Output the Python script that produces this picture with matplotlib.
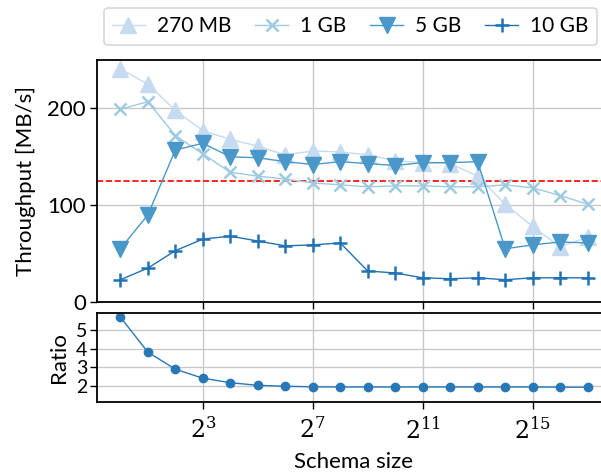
import matplotlib
matplotlib.use("Agg")
import matplotlib.pyplot as plt
from matplotlib.ticker import NullLocator, FixedLocator, FixedFormatter

plt.rcParams['font.family'] = ['Lato', 'DejaVu Sans']
plt.rcParams['mathtext.fontset'] = 'dejavuserif'

# Schema sizes 2^0 .. 2^17
exponents = list(range(18))
schema_sizes = [2 ** e for e in exponents]

tp_270mb = [241, 225, 198, 177, 168, 161, 152, 156, 155, 152, 146, 144, 143, 130, 101, 78, 57, 67]
tp_1gb = [199, 207, 172, 153, 134, 130, 127, 123, 121, 119, 120, 120, 119, 119, 121, 118, 110, 101]
tp_5gb = [55, 90, 157, 164, 150, 149, 145, 142, 145, 143, 141, 144, 144, 145, 55, 59, 62, 61]
tp_10gb = [23, 35, 53, 65, 68, 63, 58, 59, 61, 32, 30, 25, 24, 25, 23, 25, 25, 25]
ratio = [5.68, 3.81, 2.90, 2.42, 2.18, 2.04, 1.99, 1.96, 1.95, 1.95, 1.95, 1.95, 1.95, 1.95, 1.95, 1.95, 1.94, 1.94]

reference_level = 125
series_labels = ['270 MB', '1 GB', '5 GB', '10 GB']
xtick_exps = [3, 7, 11, 15]

W, H = 601, 475
fig = plt.figure(figsize=(W / 100, H / 100), dpi=100)

def rect(x0, y0, x1, y1):
    return [x0 / W, 1 - y1 / H, (x1 - x0) / W, (y1 - y0) / H]

ax = fig.add_axes(rect(97, 60, 611, 302))
axr = fig.add_axes(rect(97, 313, 611, 402), sharex=ax)

styles = [
    dict(color='#c6dbef', marker='^', ms=11, mew=1.0),
    dict(color='#9ecae1', marker='x', ms=9, mew=1.8),
    dict(color='#4a98c9', marker='v', ms=11, mew=1.0),
    dict(color='#2171b5', marker='+', ms=10, mew=1.8),
]
for vals, lab, st in zip([tp_270mb, tp_1gb, tp_5gb, tp_10gb], series_labels, styles):
    ax.plot(schema_sizes, vals, lw=1.0, label=lab, **st)

ax.axhline(reference_level, color='red', ls='--', lw=1.2, zorder=1)

ax.set_xscale('log', base=2)
ax.set_xlim(2 ** -0.85, 2 ** 17.85)
ax.set_ylim(0, 250)
ax.set_yticks([0, 100, 200])
ax.set_ylabel('Throughput [MB/s]', fontsize=16, labelpad=8)

axr.plot(schema_sizes, ratio, color='#2878b8', marker='o', ms=6, lw=1.0)
axr.set_ylim(1.15, 5.9)
axr.set_yticks([2, 3, 4, 5])
axr.set_ylabel('Ratio', fontsize=16, labelpad=5)
axr.set_xlabel('Schema size', fontsize=16, labelpad=7)

ticks = [2 ** e for e in xtick_exps]
for a in (ax, axr):
    a.xaxis.set_major_locator(FixedLocator(ticks))
    a.xaxis.set_minor_locator(NullLocator())
    a.grid(True, color='#c8c8c8', lw=1.0)
    a.set_axisbelow(True)
    a.tick_params(axis='both', direction='out', length=5, width=1.0)
    for sp in a.spines.values():
        sp.set_linewidth(1.3)
ax.tick_params(axis='y', labelsize=16, pad=3)
axr.tick_params(axis='y', labelsize=14, pad=2)
ax.tick_params(axis='x', labelbottom=False)
axr.xaxis.set_major_formatter(FixedFormatter([f'$2^{{{e}}}$' for e in xtick_exps]))
axr.tick_params(axis='x', labelsize=17, pad=5)

leg = ax.legend(loc='center left', bbox_to_anchor=(104 / W, 1 - 26.5 / H),
                bbox_transform=fig.transFigure, ncol=4, fontsize=15, frameon=True,
                edgecolor='#cccccc', fancybox=True, handlelength=1.55, columnspacing=1.15,
                borderpad=0.4, borderaxespad=0, handletextpad=0.6)
leg.get_frame().set_linewidth(1.2)

fig.savefig('out.png', dpi=100)
